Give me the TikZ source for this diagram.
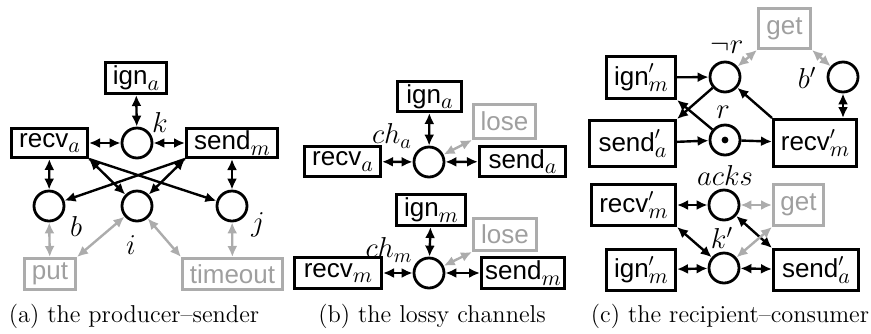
\documentclass[tikz,border=0pt]{standalone}
\usepackage{fontspec}
\setsansfont{Liberation Sans}
\usetikzlibrary{arrows.meta}
\newcommand\tfont{\sffamily\fontsize{13}{15}\selectfont}
\newcommand\lfont{\fontsize{14.4}{17}\selectfont}
\newcommand\capfont{\fontsize{12.2}{15}\selectfont}
\newcommand\sbx[1]{\raisebox{-0.22em}{\fontsize{10.95}{12}\selectfont$#1$}}
\newcommand\psb[1]{\rlap{\raisebox{0.1em}{$'$}}\sbx{#1}}
\begin{document}
\begin{tikzpicture}[x=0.5pt,y=-0.5pt,
  tbox/.style={draw, line width=1.4pt, inner sep=0pt, font=\tfont},
  gbox/.style={tbox, draw=gray!65, text=gray!75},
  place/.style={circle, draw, line width=1.4pt, minimum size=15pt, inner sep=0pt},
  arc/.style={line width=1.2pt, -{Latex[length=5.5pt,width=5pt]}},
  barc/.style={line width=1.2pt, {Latex[length=5.5pt,width=5pt]}-{Latex[length=5.5pt,width=5pt]}},
  garc/.style={barc, draw=gray!65, color=gray!65},
  lbl/.style={font=\lfont, inner sep=0pt},
  captext/.style={font=\capfont, inner sep=0pt}
]
\useasboundingbox (0,0) rectangle (871,333);

% ---------------- (a) ----------------
\node[tbox, minimum width=30.6pt, minimum height=15.6pt] (ignA) at (136,78) {ign\sbx{a}};
\node[place] (k) at (137,143) {};
\node[tbox, minimum width=38.1pt, minimum height=14.6pt] (recvA) at (49.5,143) {recv\sbx{a}};
\node[tbox, minimum width=45.6pt, minimum height=14.6pt] (sendM) at (232,143) {send\sbx{m}};
\node[place] (b) at (49,206) {};
\node[place] (i) at (137,206) {};
\node[place] (j) at (232,206) {};
\node[gbox, minimum width=25.6pt, minimum height=15.6pt] (put) at (50,274) {put};
\node[gbox, minimum width=50.1pt, minimum height=15.6pt] (timeout) at (232.5,274) {timeout};
\node[lbl] (lk) at (160,122) {$k$};
\node[lbl] (lb) at (76,226) {$b$};
\node[lbl] (li) at (131,245) {$i$};
\node[lbl] (lj) at (258,225) {$j$};
\node[captext] (capa) at (134,316) {(a) the producer--sender};

\draw[barc] (ignA) -- (k);
\draw[barc] (recvA) -- (k);
\draw[barc] (k) -- (sendM);
\draw[barc] (recvA) -- (b);
\draw[barc] (sendM) -- (j);
\draw[barc] (recvA.south east) -- (i);
\draw[arc] (recvA.south east) -- (j);
\draw[barc] (sendM.south west) -- (i);
\draw[arc] (sendM.south west) -- (b);
\draw[garc] (b) -- (put);
\draw[garc] (i) -- (put.north east);
\draw[garc] (i) -- (timeout.north west);
\draw[garc] (j) -- (timeout);

% ---------------- (b) ----------------
\node[tbox, minimum width=32.1pt, minimum height=15.1pt] (ignA2) at (429.5,96.5) {ign\sbx{a}};
\node[place] (cha) at (429,162) {};
\node[tbox, minimum width=38.1pt, minimum height=15.1pt] (recvA2) at (342.5,161.5) {recv\sbx{a}};
\node[tbox, minimum width=43.1pt, minimum height=15.1pt] (sendA2) at (522.5,161.5) {send\sbx{a}};
\node[gbox, minimum width=31.1pt, minimum height=17.1pt] (lose1) at (504.5,121.5) {lose};
\node[lbl] (lcha) at (392,136) {$ch_a$};
\draw[barc] (ignA2) -- (cha);
\draw[barc] (recvA2) -- (cha);
\draw[barc] (cha) -- (sendA2);
\draw[garc] (lose1.south west) -- (cha);

\node[tbox, minimum width=34.6pt, minimum height=15.6pt] (ignM2) at (431,210) {ign\sbx{m}};
\node[place] (chm) at (429,273) {};
\node[tbox, minimum width=43.6pt, minimum height=15.6pt] (recvM2) at (338,273) {recv\sbx{m}};
\node[tbox, minimum width=41.6pt, minimum height=15.6pt] (sendM2) at (523,273) {send\sbx{m}};
\node[gbox, minimum width=31.6pt, minimum height=16.1pt] (lose2) at (505,234.5) {lose};
\node[lbl] (lchm) at (389,250) {$ch_m$};
\draw[barc] (ignM2) -- (chm);
\draw[barc] (recvM2) -- (chm);
\draw[barc] (chm) -- (sendM2);
\draw[garc] (lose2.south west) -- (chm);
\node[captext] (capb) at (432,316) {(b) the lossy channels};

% ---------------- (c) ----------------
\node[gbox, minimum width=26.1pt, minimum height=20.1pt] (get1) at (784.5,28.5) {get};
\node[place] (notr) at (725,77) {};
\node[place] (bp) at (843,77) {};
\node[tbox, minimum width=34.6pt, minimum height=21.1pt] (ignm3) at (641,77.5) {ign\psb{m}};
\node[tbox, minimum width=43.1pt, minimum height=23.1pt] (sendA3) at (632.5,143.5) {send\psb{a}};
\node[place] (r) at (725,140) {};
\fill (r.center) circle[radius=1.7pt];
\node[tbox, minimum width=41.6pt, minimum height=23.6pt] (recvm3) at (815,143) {recv\psb{m}};
\node[lbl] (lnotr) at (727,47) {$\neg r$};
\node[lbl] (lr) at (723,112) {$r$};
\node[lbl] (lbp) at (807,78) {$b'$};
\draw[arc] (ignm3) -- (notr);
\draw[arc] (sendA3) -- (r);
\draw[arc] (r) -- (recvm3);
\draw[arc] (recvm3.north west) -- (notr);
\draw[arc] (notr) -- (sendA3.north east);
\draw[arc] (r) -- (ignm3.south east);
\draw[garc] (get1.south west) -- (notr);
\draw[garc] (get1.south east) -- (bp);
\draw[barc] (bp) -- (bp |- recvm3.north);

\node[tbox, minimum width=42.1pt, minimum height=20.6pt] (recvm4) at (633.5,205) {recv\psb{m}};
\node[place] (acks) at (724,205) {};
\node[gbox, minimum width=25.1pt, minimum height=20.6pt] (get2) at (798.5,205) {get};
\node[place] (kp) at (724,268) {};
\node[tbox, minimum width=34.6pt, minimum height=20.6pt] (ignm4) at (641,270) {ign\psb{m}};
\node[tbox, minimum width=42.6pt, minimum height=20.6pt] (sendA4) at (816,270) {send\psb{a}};
\node[lbl] (lacks) at (725,175) {$acks$};
\node[lbl] (lkp) at (722,238) {$k'$};
\draw[barc] (recvm4) -- (acks);
\draw[garc] (acks) -- (get2);
\draw[barc] (acks) -- (sendA4.north west);
\draw[barc] (recvm4.south east) -- (kp);
\draw[barc] (ignm4) -- (kp);
\draw[barc] (kp) -- (sendA4);
\draw[garc] (get2.south west) -- (kp);
\node[captext] (capc) at (730,316) {(c) the recipient--consumer};
\end{tikzpicture}
\end{document}
